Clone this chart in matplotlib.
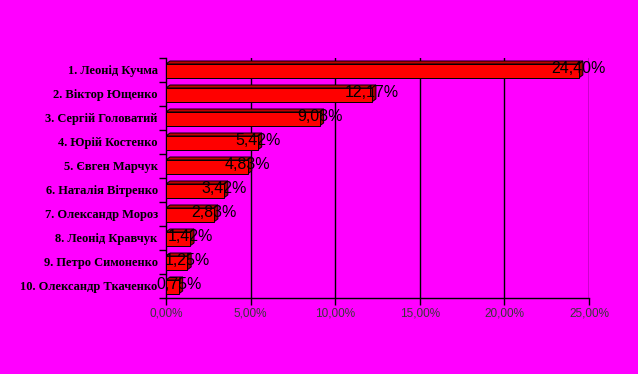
import numpy as np
import matplotlib
matplotlib.use("Agg")
import matplotlib.pyplot as plt

# Рейтинг кандидатів (%)
kandydaty = ["1. Леонід Кучма", "2. Віктор Ющенко", "3. Сергій Головатий",
             "4. Юрій Костенко", "5. Євген Марчук", "6. Наталія Вітренко",
             "7. Олександр Мороз", "8. Леонід Кравчук", "9. Петро Симоненко",
             "10. Олександр Ткаченко"]
vidsotky = [24.40, 12.17, 9.08, 5.42, 4.83, 3.42, 2.83, 1.42, 1.25, 0.75]
x_ticks = [0, 5, 10, 15, 20, 25]

fon = "#ff00ff"
W, H, DPI = 638, 374, 100

fig = plt.figure(figsize=(W / DPI, H / DPI), dpi=DPI, facecolor=fon)
ax = fig.add_axes([166 / W, 1 - 298 / H, (589 - 166) / W, (298 - 58) / H])
ax.set_facecolor(fon)

ax.set_xlim(0, 25)
ax.set_ylim(len(kandydaty) - 0.5, -0.5)

# глибина 3D-ефекту в одиницях даних (~4 px вправо, ~3 px вгору)
dx = 4 * 25 / 423
dy = 3 / 24
h = 0.58

# сітка
for t in x_ticks[1:]:
    ax.axvline(t, color="black", lw=1, zorder=1)

for i, v in enumerate(vidsotky):
    y0 = i - h / 2 + 0.04
    y1 = y0 + h
    # верхня грань
    ax.fill([0, v, v + dx, dx], [y0, y0, y0 - dy, y0 - dy],
            facecolor="#c00000", edgecolor="black", lw=0.7, zorder=2)
    # бічна грань
    ax.fill([v, v, v + dx, v + dx], [y0, y1, y1 - dy, y0 - dy],
            facecolor="#a00000", edgecolor="black", lw=0.7, zorder=2)
    # передня грань
    ax.fill([0, v, v, 0], [y0, y0, y1, y1],
            facecolor="#ff0000", edgecolor="black", lw=0.7, zorder=3)
    ax.text(v, i - 0.05, f"{v:.2f}".replace(".", ",") + "%",
            ha="center", va="center", fontsize=11.5,
            family="Liberation Sans", color="black", zorder=5)

ax.set_yticks(range(len(kandydaty)))
ax.set_yticklabels(kandydaty, family="Liberation Serif", fontweight="bold",
                   fontsize=9)
ax.tick_params(axis="y", which="major", length=0, pad=6)
ax.set_yticks(np.arange(-0.5, len(kandydaty), 1), minor=True)
ax.tick_params(axis="y", which="minor", length=5, width=1, color="black")

ax.set_xticks(x_ticks)
ax.set_xticklabels([f"{t:.2f}".replace(".", ",") + "%" for t in x_ticks],
                   family="Liberation Sans", fontsize=8.5, color="#383838")
ax.tick_params(axis="x", length=5, width=1, color="black", pad=2)

for s in ["top", "right"]:
    ax.spines[s].set_visible(False)
for s in ["left", "bottom"]:
    ax.spines[s].set_color("black")
    ax.spines[s].set_linewidth(1)

fig.savefig("out.png", dpi=DPI, facecolor=fon)
